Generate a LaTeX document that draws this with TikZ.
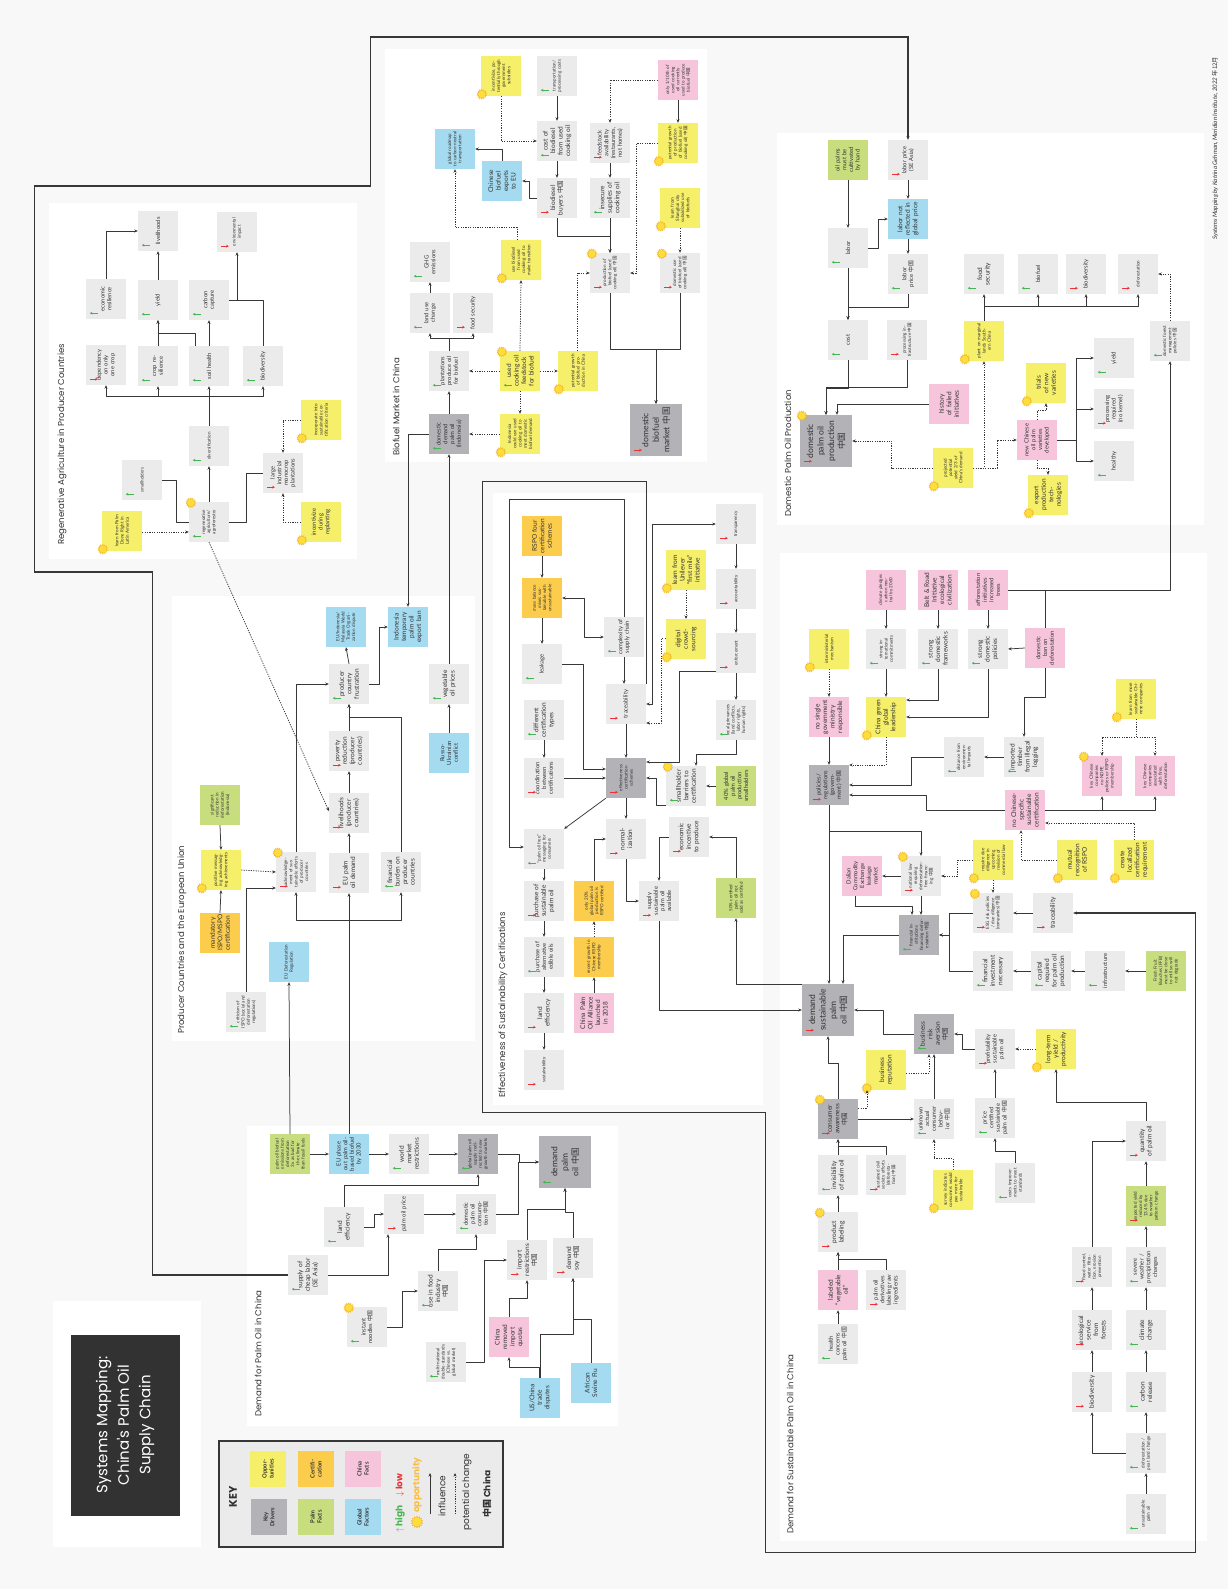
\documentclass[tikz,border=0pt]{standalone}
\usepackage{fontspec}
\setmainfont{Lato}
\newfontfamily\pop{Poppins}
\newfontfamily\cjk{Noto Sans CJK SC}
\usetikzlibrary{arrows.meta,calc,shapes.geometric}
\newcommand\zg{{\cjk 中国}}
\definecolor{bgc}{RGB}{248,248,248}
\definecolor{gbox}{RGB}{235,235,235}
\definecolor{kdc}{RGB}{178,178,183}
\definecolor{yel}{RGB}{246,239,106}
\definecolor{ora}{RGB}{252,204,76}
\definecolor{pnk}{RGB}{246,197,220}
\definecolor{grn}{RGB}{200,222,126}
\definecolor{blu}{RGB}{164,219,240}
\definecolor{hic}{RGB}{70,180,80}
\definecolor{loc}{RGB}{235,50,55}
\definecolor{lnc}{RGB}{55,55,55}
\definecolor{txt}{RGB}{50,50,50}
\definecolor{dark}{RGB}{50,50,50}
\definecolor{sunf}{RGB}{255,222,60}
\definecolor{sund}{RGB}{240,175,40}
\newcommand\indhi[1]{\draw[hiarr] ([xshift=12pt,yshift=6pt]#1.north west) -- ++(-8,0);}
\newcommand\indlo[1]{\draw[loarr] ([xshift=4pt,yshift=6pt]#1.north west) -- ++(8,0);}
\newcommand\sunbl[1]{\node[sun] (#1sun) at ($(#1.north west)+(1,-2)$) {};}
\newcommand\suntl[1]{\node[sun] (#1sun) at ($(#1.north east)+(2,1)$) {};}
\tikzset{
 box/.style={rotate=90, minimum width=40pt, minimum height=40pt, text width=35pt, inner sep=2.5pt, align=center, font=\fontsize{5.8}{6.7}\selectfont, text=txt},
 gb/.style={box, fill=gbox},
 kd/.style={box, fill=kdc},
 op/.style={box, fill=yel},
 ce/.style={box, fill=ora},
 cf/.style={box, fill=pnk},
 pf/.style={box, fill=grn},
 gf/.style={box, fill=blu},
 big/.style={minimum width=52pt, minimum height=52pt, text width=46pt, font=\fontsize{8.5}{10.5}\selectfont},
 fS/.style={font=\fontsize{4.5}{5.2}\selectfont},
 fL/.style={font=\fontsize{6.5}{7.5}\selectfont},
 arr/.style={draw=lnc, line width=0.75pt, line join=round, -{Stealth[length=3.5pt,width=3pt]}},
 arrb/.style={draw=lnc, line width=0.75pt, line join=round, {Stealth[length=3.5pt,width=3pt]}-{Stealth[length=3.5pt,width=3pt]}},
 ln/.style={draw=lnc, line width=0.75pt, line join=round},
 darr/.style={arr, dash pattern=on 1.2pt off 1.2pt},
 hiarr/.style={draw=hic, line width=0.9pt, -{Stealth[length=2.6pt,width=2.8pt]}},
 loarr/.style={draw=loc, line width=0.9pt, -{Stealth[length=2.6pt,width=2.8pt]}},
 sun/.style={star, star points=14, star point ratio=1.45, minimum size=10pt, inner sep=0pt, fill=sunf, draw=sund, line width=0.3pt},
 ttl/.style={rotate=90, anchor=west, inner sep=0pt, font=\pop\fontsize{8.6}{10}\selectfont, text=txt},
 big outline/.style={draw=lnc, line width=1.1pt, line join=miter}
}
\begin{document}
\begin{tikzpicture}[x=1pt,y=-1pt]
\useasboundingbox (0,0) rectangle (1228,1589);
\fill[bgc] (0,0) rectangle (1228,1589);
% panels
\fill[white] (49,203) rectangle (357,559);
\fill[white] (385,49) rectangle (707,462);
\fill[white] (777,133) rectangle (1204,525);
\fill[white] (172,596) rectangle (475,1041);
\fill[white] (493,493) rectangle (763,1105);
\fill[white] (780,553) rectangle (1207,1541);
\fill[white] (247,1126) rectangle (618,1426);
\fill[white] (53,1301) rectangle (201,1547);
\fill[dark] (71,1335) rectangle (180,1516);
\node[rotate=90, align=center, text=white, font=\pop\fontsize{15}{21.5}\selectfont] (maintitle) at (125,1425) {Systems Mapping:\\China's Palm Oil\\Supply Chain};
% section titles
\node[ttl] (t1) at (62,545) {Regenerative Agriculture in Producer Countries};
\node[ttl] (t2) at (396,456) {Biofuel Market in China};
\node[ttl] (t3) at (788,517) {Domestic Palm Oil Production};
\node[ttl] (t4) at (182,1034) {Producer Countries and the European Union};
\node[ttl] (t5) at (503,1098) {Effectiveness of Sustainability Certifications};
\node[ttl] (t6) at (790,1534) {Demand for Sustainable Palm Oil in China};
\node[ttl] (t7) at (258,1417) {Demand for Palm Oil in China};
\node[rotate=90, anchor=west, inner sep=0pt, font=\itshape\fontsize{6.2}{7}\selectfont, text=txt] (credit) at (1215,240) {Systems Mapping by Katrina Gehman, Meridian Institute, 2022 {\upshape\cjk 年12月}};

% ===== Regenerative agriculture =====
\node[gb] (rlive) at (158,231) {livelihoods};
\node[gb,fS] (renv) at (237,232) {environmental impact};
\node[gb] (recon) at (106,299) {economic resilience};
\node[gb] (ryield) at (158,300) {yield};
\node[gb] (rcarb) at (209,300) {carbon capture};
\node[gb] (rdep) at (106,365) {dependency on only one crop};
\node[gb] (rcrop) at (158,366) {crop resilience};
\node[gb] (rsoil) at (209,366) {soil health};
\node[gb] (rbio) at (263,366) {biodiversity};
\node[gb,fS] (rdiv) at (209,446) {diversification};
\node[gb,fS] (rsmall) at (142,480) {smallholders};
\node[gb,fS] (rregen) at (209,522) {regenerative agriculture/ agroforestry};
\node[op,fS] (rlearn) at (122,531) {learn from Palm Done Right in Latin America};
\node[gb] (rlarge) at (283,473) {large industrial monocrop plantations};
\node[op,fS] (rincorp) at (321,420) {incorporate into sustainable certification criteria};
\node[op] (rincent) at (321,522) {incentivize during replanting};
\indhi{rlive}\indlo{renv}\indhi{recon}\indhi{ryield}\indhi{rcarb}\indlo{rdep}\indhi{rcrop}\indhi{rsoil}\indhi{rbio}\indhi{rdiv}\indhi{rsmall}\indhi{rregen}\indlo{rlarge}
\suntl{rregen}\sunbl{rlearn}\sunbl{rincorp}\sunbl{rincent}
\draw[arr] (recon.east) |- (rlive.north);
\draw[arr] (ryield.east) -- (rlive.west);
\draw[arr] (rcrop.east) -- (ryield.west);
\draw[arr] ($(rsoil.east)+(-14,0)$) -- ++(0,-12) -| (ryield.west);
\draw[arr] (rsoil.east) -- (rcarb.west);
\draw[arr] (rcarb.south) -| (renv.west);
\draw[ln] (rbio.east) |- ($(rcarb.south)+(8,0)$);
\draw[arr] (rdiv.east) -- (rsoil.west);
\draw[arr] (rdiv.east) -- ++(0,-29) -| (rdep.west);
\draw[arr] (rdiv.east) -- ++(0,-29) -| (rcrop.west);
\draw[arr] (rdiv.east) -- ++(0,-29) -| (rbio.west);
\draw[arr] (rregen.east) -- (rdiv.west);
\draw[ln] (rsmall.south) -- ++(14,0) |- (rregen.north);
\draw[darr] ($(rlearn.south)+(0,1)$) -- ($(rregen.north)+(0,10)$);
\draw[ln] (rregen.south) -- ++(17,0) |- (rlarge.north);
\draw[darr] (rincorp.north) -| (rlarge.east);
\draw[darr] (rincent.north) -| (rlarge.west);

% ===== Biofuel =====
\node[op,fS] (bincent) at (501,76) {incentivize, potentially through government subsidies};
\node[gb,fS] (btrans) at (557,76) {transportation/ processing costs};
\node[cf,fS] (bonly) at (678,80) {only 1/10th of used cooking oil currently used to produce biofuel \zg};
\node[gf,fS] (broad) at (455,149) {global roadmap to carbon-neutral transportation};
\node[gb,fL] (bcost) at (557,141) {cost of biodiesel from used cooking oil};
\node[gb] (bfeed) at (610,143) {feedstock availability (restaurants, not homes)};
\node[op,fS] (bpotprod) at (678,143) {potential growth of production of biofuel (used cooking oil) \zg};
\node[gf,fL] (bexp) at (502,181) {Chinese biofuel exports to EU};
\node[gb,fL] (bbuy) at (557,198) {biodiesel buyers \zg};
\node[gb,fL] (binsec) at (610,198) {insecure supplies of cooking oil};
\node[op,fS] (bshang) at (680,208) {learn from Shanghai city subsidized use of biofuels};
\node[gb] (bghg) at (430,262) {GHG emissions};
\node[op,fS] (buse) at (521,260) {use biodiesel from used cooking oil to make transition};
\node[gb,fS] (bprod) at (610,273) {production of biofuel (used cooking oil) \zg};
\node[gb,fS] (bdomuse) at (680,273) {domestic use of biofuel (used cooking oil) \zg};
\node[gb] (bland) at (430,313) {land use change};
\node[gb] (bfood) at (473,313) {food security};
\node[gb] (bplant) at (449,371) {plantations produce oil for biofuel};
\node[op,fL] (bused) at (520,371) {used cooking oil feedstock for biofuel};
\node[op,fS] (bpotgrow) at (578,371) {potential growth of biofuel production in China};
\node[kd] (bdd) at (449,434) {domestic demand palm oil (Indonesia)};
\node[op,fS] (bindo) at (520,434) {Indonesia could use used cooking oil to meet domestic biofuel demand};
\node[kd,big] (bmarket) at (656,430) {domestic biofuel market \zg};
\indhi{btrans}\indhi{bcost}\indlo{bfeed}\indlo{bbuy}\indhi{binsec}\indhi{bghg}\indlo{bprod}\indlo{bdomuse}\indhi{bland}\indlo{bfood}\indhi{bplant}\indhi{bused}\indhi{bdd}\indlo{bmarket}
\sunbl{bincent}\sunbl{bpotprod}\sunbl{bshang}\sunbl{buse}\suntl{bprod}\suntl{bdomuse}\suntl{bused}\sunbl{bpotgrow}\sunbl{bindo}
\draw[arr] (btrans.west) -- (bcost.east);
\draw[darr] (bincent.west) |- (bcost.north);
\draw[arr] (bcost.west) -- (bbuy.east);
\draw[arr] (bonly.west) -- (bpotprod.east);
\draw[darr] (bonly.north) -| (bfeed.east);
\draw[arr] (bfeed.west) -- (binsec.east);
\draw[arr] (bbuy.north) -- ++(-7,0) |- (bexp.south);
\draw[arr] (bexp.east) |- (broad.south);
\draw[arr] (bbuy.west) -- ++(0,18) -| (bprod.east);
\draw[arr] (binsec.west) -- (bprod.east);
\draw[darr] (bpotprod.north) -- ++(-21,0) |- (bprod.south);
\draw[darr] (bshang.west) -- (bdomuse.east);
\draw[arr] (bprod.west) -- ++(0,56) -| (bmarket.east);
\draw[arr] (bdomuse.west) -- ++(0,56) -| (bmarket.east);
\draw[arr] (bland.east) -- (bghg.west);
\draw[arr] (bplant.east) -- ++(0,-12) -| (bland.west);
\draw[arr] (bplant.east) -- ++(0,-12) -| (bfood.west);
\draw[darr] (bused.north) -- (bplant.south);
\draw[darr] (bused.south) -- (bpotgrow.north);
\draw[darr] (bused.east) -- (buse.west);
\draw[darr] (bused.west) -- (bindo.east);
\draw[darr] ($(buse.east)+(-4,0)$) -- ++(0,-12) -| (broad.west);
\draw[darr] ($(bpotgrow.east)+(-1,0)$) |- (bprod.north);
\draw[darr] (bindo.north) -- (bdd.south);
\draw[arr] (bdd.east) -- (bplant.west);

% ===== Domestic palm oil production =====
\node[pf] (doil) at (848,160) {oil palms must be cultivated by hand};
\node[gb] (dlpse) at (908,160) {labor price (SE Asia)};
\node[gb] (dlabor) at (848,248) {labor};
\node[gf,fL] (dlnr) at (908,219) {labor not reflected in global price};
\node[gb] (dlpc) at (908,274) {labor price \zg};
\node[gb,fL] (dfood) at (984,274) {food security};
\node[gb] (dbiofuel) at (1038,274) {biofuel};
\node[gb] (dbiodiv) at (1086,274) {biodiversity};
\node[gb,fS] (ddefor) at (1138,274) {deforestation};
\node[gb] (dcost) at (848,340) {cost};
\node[gb,fS] (dproc) at (907,340) {processing infrastructure \zg};
\node[op,fS] (dplant) at (984,341) {plant on marginal lands Southern China};
\node[gb,fS] (dfm) at (1170,341) {domestic forest management policies \zg};
\node[gb] (dyield) at (1114,358) {yield};
\node[op,fL] (dtrials) at (1046,383) {trials of new varieties};
\node[cf,fL] (dhist) at (949,404) {history of failed initiatives};
\node[kd,big] (dpop) at (826,441) {domestic palm oil production \zg};
\node[cf] (dnew) at (1037,440) {new Chinese oil palm varieties developed};
\node[gb] (dprocreq) at (1114,409) {processing required (no kernel)};
\node[gb] (dhealthy) at (1114,461) {healthy};
\node[op,fS] (dproj) at (953,468) {projected potential yield 2/3 of China's demand};
\node[op,fL] (dexport) at (1048,495) {export production technologies};
\indlo{dlpse}\indhi{dlabor}\indhi{dlpc}\indhi{dfood}\indhi{dbiofuel}\indlo{dbiodiv}\indlo{ddefor}\indhi{dcost}\indlo{dproc}\indhi{dfm}\indhi{dyield}\indlo{dpop}\indlo{dprocreq}\indhi{dhealthy}
\sunbl{dplant}\sunbl{dtrials}\suntl{dpop}\sunbl{dproj}\sunbl{dexport}
\draw[arr] (doil.west) -- (dlabor.east);
\draw[arr] (dlpse.west) -- (dlnr.east);
\draw[arr] (dlabor.south) -- ++(10,0) |- (dlnr.north);
\draw[arr] (dlnr.west) -- (dlpc.east);
\draw[arr] (dlabor.west) -- (dcost.east);
\draw[arr] (dlpc.west) -- ++(0,13) -| (dcost.east);
\draw[arr] (dcost.west) -- ++(0,28) -| (dpop.east);
\draw[arr] (dproc.west) -- ++(0,27) -| (dpop.east);
\draw[arr] (dhist.north) -| ($(dpop.east)+(11,0)$);
\draw[darr] (dproj.north) -- ++(-41,0) |- (dpop.south);
\draw[darr] (dproj.south) -| (dplant.west);
\draw[darr] (dproj.south) -- ++(24,0) |- (dnew.north);
\draw[arr] (dplant.east) -- ++(0,-14) -| (dfood.west);
\draw[arr] (dplant.east) -- ++(0,-14) -| (dbiofuel.west);
\draw[arr] (dplant.east) -- ++(0,-14) -| (dbiodiv.west);
\draw[arr] (dplant.east) -- ++(0,-14) -| (ddefor.west);
\draw[darr] (dfm.east) |- (ddefor.south);
\draw[darr] (dnew.east) -- ++(0,-9) -| (dtrials.west);
\draw[darr] (dnew.west) -- ++(0,8) -| (dexport.east);
\draw[arr] (dnew.south) -- ++(19,0) |- (dyield.north);
\draw[arr] (dnew.south) -- ++(19,0) |- (dprocreq.north);
\draw[arr] (dnew.south) -- ++(19,0) |- (dhealthy.north);

% ===== Producer countries and EU =====
\node[gf,fS] (pwto) at (346,627) {EU/Indonesia/ Malaysia World Trade Organization dispute};
\node[gf,fL] (pban) at (408,627) {Indonesia temporary palm oil export ban};
\node[gb,fL] (pfrus) at (349,684) {producer country frustration};
\node[gb,fL] (pveg) at (449,684) {vegetable oil prices};
\node[gb,fL] (ppov) at (349,751) {poverty reduction (producer countries)};
\node[gf] (prusso) at (449,753) {Russo-Ukrainian conflict};
\node[pf,fS] (psig) at (220,805) {significant reduction in deforestation (Indonesia)};
\node[gb,fL] (pliv) at (349,813) {livelihoods (producer countries)};
\node[op,fS] (ppos) at (221,870) {positive messaging acknowledging achievements};
\node[gb,fS] (pack) at (296,872) {acknowledge-ment of sustainable efforts of producer countries};
\node[gb,fL] (pdem) at (349,873) {EU palm oil demand};
\node[gb,fL] (pfin) at (401,872) {financial burden on producer countries};
\node[ce,fL] (pmand) at (220,933) {mandatory ISPO/MSPO certification};
\node[gf,fS] (peureg) at (289,962) {EU Deforestation Regulation};
\node[gb,fS] (pcrit) at (246,1012) {criticism of ISPO (social and deforestation regulations)};
\indhi{pfrus}\indhi{pveg}\indlo{ppov}\indlo{pliv}\indlo{pack}\indlo{pdem}\indhi{pfin}\indhi{pcrit}
\sunbl{ppos}\suntl{pack}
\draw[arr] (pfrus.east) -- (pwto.west);
\draw[arr] (pfrus.south) -- ++(10,0) |- (pban.north);
\draw[arr] (ppov.east) -- (pfrus.west);
\draw[arr] (pliv.east) -- (ppov.west);
\draw[arr] (pdem.east) -- (pliv.west);
\draw[arr] (pfin.east) |- ($(ppov.east)!0.5!(pfrus.west)$) -- (pfrus.west);
\draw[arr] (pack.east) |- (pfrus.north);
\draw[darr] (ppos.south) -- (pack.north);
\draw[arr] (psig.west) -- (ppos.east);
\draw[arr] (pmand.east) -- (ppos.west);
\draw[arr] (pcrit.east) |- ($(pack.north)+(0,16)$);
\draw[arr] (prusso.east) -- (pveg.west);
\draw[arr] (pveg.east) -- (bdd.west);
\draw[arr] (bdd.north) -| (pban.east);
\draw[darr] (rregen.west) -- ($(pliv.north)+(0,-2)$);

% ===== Effectiveness of certifications =====
\node[ce,fL] (crspo) at (542,536) {RSPO four certification schemes};
\node[gb,fS] (ctransp) at (736,524) {transparency};
\node[op,fL] (cunil) at (686,570) {learn from Unilever “first mile” initiative};
\node[ce,fS] (cmass) at (542,598) {mass balance mixes sustainable with unsustainable};
\node[gb,fS] (caccount) at (736,589) {accountability};
\node[gb] (ccomp) at (624,637) {complexity of supply chain};
\node[op,fL] (cdigital) at (686,639) {digital crowd-sourcing};
\node[gb] (cleak) at (542,664) {leakage};
\node[gb,fS] (cenforce) at (736,653) {enforcement};
\node[gb] (ctrace) at (626,704) {traceability};
\node[gb,fL] (cdiff) at (544,720) {different certification types};
\node[gb,fS] (cgriev) at (736,720) {local grievances (land conflicts, labor rights, human rights)};
\node[gb] (ccoord) at (544,778) {coordination between certifications};
\node[kd,fS] (ceff) at (626,778) {effectiveness certification schemes};
\node[gb,fL] (csmall) at (686,786) {smallholder barriers to certification};
\node[pf] (c40) at (736,786) {40\% global palm oil production smallholders};
\node[gb,fS] (cmsg) at (544,849) {“palm oil free” messaging for consumers};
\node[gb,fL] (cnorm) at (626,839) {normal-ization};
\node[gb,fL] (cecon) at (689,837) {economic incentive to produce};
\node[gb,fL] (cpsus) at (544,901) {purchase of sustainable palm oil};
\node[ce,fS] (conly) at (594,901) {only 20\% global palm oil production is RSPO certified};
\node[gb] (csupply) at (659,901) {supply sustainable palm oil available};
\node[pf,fS] (c50) at (736,898) {50\% certified palm oil not sold as certified};
\node[gb] (cpalt) at (544,957) {purchase of alternative edible oils};
\node[ce,fS] (crecent) at (594,957) {recent growth in Chinese RSPO membership};
\node[gb,fL] (cland) at (544,1013) {land efficiency};
\node[cf,fL] (calliance) at (594,1013) {China Palm Oil Alliance launched in 2018};
\node[gb,fS] (csust) at (544,1070) {sustainability};
\indlo{ctransp}\indlo{caccount}\indhi{ccomp}\indhi{cleak}\indlo{cenforce}\indlo{ctrace}\indhi{cdiff}\indhi{cgriev}\indlo{ccoord}\indlo{ceff}\indhi{csmall}\indhi{cmsg}\indlo{cnorm}\indlo{cecon}\indlo{cpsus}\indlo{csupply}\indhi{cpalt}\indlo{cland}\indlo{csust}
\sunbl{cunil}\sunbl{cdigital}\suntl{csmall}
\draw[arr] (crspo.west) -- (cmass.east);
\draw[arr] (cmass.west) -- (cleak.east);
\draw[arrb] (cmass.south) -- ++(22,0) |- (ccomp.north);
\draw[arr] (ccomp.west) -- (ccomp.west |- ctrace.east);
\draw[arr] (ccomp.east) -- ++(0,-117) -- ++(-115,0) |- ($(cmsg.north)+(0,-2)$);
\draw[arrb] (ctrace.south) -- ++(6,0) |- (ctransp.north);
\draw[arr] (ctransp.west) -- (caccount.east);
\draw[arr] (caccount.west) -- (cenforce.east);
\draw[arr] (cenforce.west) -- (cgriev.east);
\draw[darr] (cunil.west) -- (cdigital.east);
\draw[darr] ($(cdigital.north)+(0,-1)$) -- ++(-4,0) |- ($(ctrace.south)+(0,19)$);
\draw[arr] ($(cenforce.north)+(0,18)$) -- ++(-36,0) |- ($(ceff.south)+(0,-16)$);
\draw[arr] (cgriev.west) -- ++(0,14) -| ($(csmall.east)+(10,0)$);
\draw[arr] (c40.north) -- (csmall.south);
\draw[arr] ($(csmall.north)+(0,19)$) -- ++(-9,0) |- (ceff.south);
\draw[arr] (ctrace.west) -- (ceff.east);
\draw[arr] (cleak.south) -- ++(21,0) |- ($(ceff.north)+(0,-9)$);
\draw[arr] (cdiff.west) -- (ccoord.east);
\draw[arr] (ccoord.south) -- (ceff.north);
\draw[arr] (ceff.north west) -- (cmsg.south east);
\draw[arr] (ceff.west) -- (cnorm.east);
\draw[arr] (cmsg.west) -- (cpsus.east);
\draw[arr] (cpsus.west) -- (cpalt.east);
\draw[arr] (cpalt.west) -- (cland.east);
\draw[arr] (cland.west) -- (csust.east);
\draw[arr] (calliance.east) -- (crecent.west);
\draw[darr] (crecent.east) -- (conly.west);
\draw[arr] (conly.east) |- (cnorm.north);
\draw[arr] (cnorm.west) |- (csupply.north);
\draw[arr] (cecon.north) -| (csupply.east);
\draw[arr] (c50.east) |- (cecon.south);

% ===== Demand for sustainable palm oil =====
\node[cf,fS] (sclim) at (886,590) {climate pledges carbon neutral by 2060};
\node[cf,fL] (sbelt) at (938,590) {Belt \& Road Initiative ecological civilization};
\node[cf] (safforest) at (988,590) {afforestation initiatives increased trees};
\node[op,fS] (sinter) at (829,649) {interministerial mechanism};
\node[gb,fS] (sintl) at (886,649) {strong international commitments};
\node[gb,fL] (sfw) at (938,649) {strong domestic frameworks};
\node[gb,fL] (spol) at (988,649) {strong domestic policies};
\node[cf] (sban) at (1045,648) {domestic ban on deforestation};
\node[op,fS] (slearn) at (1136,699) {learn from more sustainable Chinese companies};
\node[cf,fL] (snosingle) at (829,717) {no single government ministry responsible};
\node[op,fL] (sgreen) at (886,717) {China green global leadership};
\node[gb,fS] (sdist) at (964,757) {distance from environmental impacts};
\node[gb,fL] (stimber) at (1024,757) {imported timber from illegal logging};
\node[kd] (spolicies) at (829,785) {policies/ regulations (government) \zg};
\node[cf,fS] (skcc1) at (1102,776) {key Chinese companies no NDPE policies or RSPO membership};
\node[cf,fS] (skcc2) at (1155,776) {key Chinese companies associated with fires, deforestation};
\node[cf,fL] (snochin) at (1025,810) {no Chinese-specific sustainable certification};
\node[cf] (sdalian) at (862,876) {Dalian Commodity Exchange leakage market};
\node[gb,fS] (slaw) at (921,876) {national law requiring deforestation-free financing \zg};
\node[op,fS] (sreq) at (993,860) {require due diligence in upcoming revision of commercial law};
\node[op,fL] (smutual) at (1077,860) {mutual recognition of RSPO};
\node[op,fL] (screate) at (1134,860) {create localized certification requirement};
\node[gb,fS] (sesg) at (993,913) {ESG risk policies / due diligence (companies) \zg};
\node[gb,fL] (strace) at (1053,913) {traceability};
\node[kd,fS] (sfin) at (919,935) {financial institutions financing deforestation \zg};
\node[gb,fL] (sfinv) at (993,971) {financial investment necessary};
\node[gb,fL] (scap) at (1051,971) {capital required for palm oil production};
\node[gb] (sinfra) at (1105,971) {infrastructure};
\node[pf,fS] (sffb) at (1166,971) {Fresh Fruit Bunches (FFB) must be close to mill so will not degrade};
\node[kd,big] (sdemand) at (828,1010) {demand sustainable palm oil \zg};
\node[kd,fL] (sbiz) at (934,1034) {business risk aversion \zg};
\node[gb] (sprof) at (995,1049) {profitability sustainable palm oil};
\node[op,fL] (slong) at (1056,1049) {long-term yield / productivity};
\node[op,fL] (sbizrep) at (886,1070) {business reputation};
\node[kd,fL] (scons) at (838,1119) {consumer awareness \zg};
\node[gb] (sunknown) at (934,1119) {unknown actual consumer behavior \zg};
\node[gb] (sprice) at (995,1118) {price certified sustainable palm oil \zg};
\node[gb,fL] (squant) at (1146,1141) {quantity of palm oil};
\node[gb,fL] (sinvis) at (838,1175) {invisibility of palm oil};
\node[gb,fS] (ssustained) at (886,1175) {sustained civil society efforts (deforestation) \zg};
\node[op,fS] (ssurvey) at (953,1190) {survey indicates consumers would pay more for sustainable};
\node[gb,fS] (scosts) at (1015,1183) {costs improvements to meet standards};
\node[pf,fS] (sexp) at (1146,1206) {expected yield reduced by 13.4\% due to weather pattern change};
\node[gb,fL] (slabel) at (838,1232) {product labeling};
\node[cf,fL] (sveg) at (838,1290) {labeled “vegetable oil”};
\node[gb] (sderiv) at (886,1290) {palm oil derivatives labeling raw ingredients};
\node[gb,fS] (sflood) at (1092,1267) {flood control, water filtration, erosion prevention};
\node[gb] (ssev) at (1146,1267) {severe weather / precipitation changes};
\node[gb] (shealth) at (838,1344) {health concerns palm oil \zg};
\node[gb,fL] (seco) at (1092,1330) {ecological service from forests};
\node[gb,fL] (sclimc) at (1146,1330) {climate change};
\node[gb,fL] (sbio) at (1092,1392) {biodiversity};
\node[gb,fL] (scarb) at (1146,1392) {carbon release};
\node[gb,fS] (sdefpeat) at (1146,1453) {deforestation / peat land change};
\node[gb,fS] (sunsus) at (1146,1514) {unsustainable palm oil};
\indhi{sintl}\indhi{sfw}\indhi{spol}\indhi{sdist}\indhi{stimber}\indlo{spolicies}\indlo{slaw}\indlo{sesg}\indlo{strace}\indhi{sfin}\indhi{sfinv}\indhi{scap}\indhi{sinfra}\indlo{sdemand}\indhi{sbiz}\indlo{sprof}\indlo{scons}\indhi{sunknown}\indhi{sprice}\indlo{squant}\indhi{sinvis}\indlo{ssustained}\indhi{scosts}\indlo{sexp}\indlo{slabel}\indlo{sderiv}\indlo{sflood}\indhi{ssev}\indhi{shealth}\indlo{seco}\indhi{sclimc}\indlo{sbio}\indhi{scarb}\indhi{sdefpeat}\indhi{sunsus}
\sunbl{sinter}\sunbl{slearn}\sunbl{sgreen}\suntl{skcc1}\suntl{slaw}\sunbl{sreq}\sunbl{smutual}\sunbl{screate}\suntl{sesg}\sunbl{slong}\sunbl{sbizrep}\suntl{scons}\sunbl{ssurvey}\suntl{slabel}
\draw[arr] (sclim.west) -- (sintl.east);
\draw[arr] (sbelt.west) -- (sfw.east);
\draw[arr] (safforest.west) -- (spol.east);
\draw[arr] (sban.north) -- (spol.south);
\draw[arr] (safforest.south) -| (dfm.west);
\draw[ln] (sban.east) -- (sban.east |- safforest.south);
\draw[arr] (sintl.west) -- (sgreen.east);
\draw[arr] (sfw.west) |- ($(sgreen.south)+(0,-17)$);
\draw[arr] (spol.west) |- (sgreen.south);
\draw[darr] (sinter.west) -- (snosingle.east);
\draw[arr] (snosingle.west) -- (spolicies.east);
\draw[darr] (sgreen.west) |- ($(spolicies.south)+(0,-20)$);
\draw[arr] (sdist.north) -- ++(-32,0) |- (spolicies.south);
\draw[arr] (stimber.north) -- (sdist.south);
\draw[arr] (sban.west) -- ++(0,29) -| (stimber.east);
\draw[darr] (slearn.west) -- ++(0,18) -| (skcc1.east);
\draw[darr] (slearn.west) -- ++(0,18) -| (skcc2.east);
\draw[arr] (snochin.north) -- ++(-78,0) |- ($(spolicies.south)+(0,10)$);
\draw[arr] (snochin.south) -| (skcc1.west);
\draw[arr] (snochin.south) -| (skcc2.west);
\draw[darr] (smutual.north) -| ($(snochin.west)+(-4,0)$);
\draw[darr] (screate.east) |- ($(snochin.south)+(0,13)$);
\draw[arr] (spolicies.west) -- ++(0,26) -| (slaw.east);
\draw[arr] (spolicies.west) -- (spolicies.west |- sdemand.east);
\draw[darr] (sreq.north) -- ++(-15,0) |- (slaw.south);
\draw[darr] (sreq.west) -- (sesg.east);
\draw[arr] (slaw.north) -- (sdalian.south);
\draw[arr] (slaw.west) -- (slaw.west |- sfin.east);
\draw[arr] ($(sdalian.west)+(-7,0)$) -- ++(0,10) -| ($(sfin.east)+(-7,0)$);
\draw[arr] (sesg.north) -- ++(-23,0) |- (sfin.south);
\draw[arr] (sfinv.north) -- ++(-23,0) |- (sfin.south);
\draw[arr] (strace.north) -- (sesg.south);
\draw[arr] (sffb.north) -- (sinfra.south);
\draw[arr] (sinfra.north) -- (scap.south);
\draw[arr] (scap.north) -- (sfinv.south);
\draw[arr] (sfin.north) -| ($(sdemand.east)+(15,0)$);
\draw[arr] (sbiz.north) -- ++(-30,0) |- (sdemand.south);
\draw[arr] (sprof.north) -- ++(-12,0) |- (sbiz.south);
\draw[darr] (slong.north) -- (sprof.south);
\draw[arr] (sprice.east) -- (sprof.west);
\draw[arr] (scosts.east) -- ++(0,-11) -| (sprice.west);
\draw[arr] (squant.east) -- ++(0,-18) -| (slong.west);
\draw[arr] (sexp.east) -- (squant.west);
\draw[arr] (ssev.east) -- (sexp.west);
\draw[arr] (sflood.east) |- (squant.north);
\draw[arr] (seco.east) -- (sflood.west);
\draw[arr] (sbio.east) -- (seco.west);
\draw[arr] (sclimc.east) -- (ssev.west);
\draw[arr] (scarb.east) -- (sclimc.west);
\draw[arr] (sdefpeat.east) -- (scarb.west);
\draw[arr] (sdefpeat.north) -| (sbio.west);
\draw[arr] (sunsus.east) -- (sdefpeat.west);
\draw[arr] (scons.east) -- ++(0,-35) -| (sdemand.west);
\draw[darr] ($(scons.south)+(0,-11)$) -| ($(sbizrep.west)+(-19,0)$);
\draw[darr] ($(sbizrep.south)+(0,3)$) -| ($(sbiz.west)+(-5,0)$);
\draw[arr] (scons.south) -- (sunknown.north);
\draw[arr] (sunknown.east) -- (sbiz.west);
\draw[darr] (ssurvey.east) -- ++(0,-11) -| (sunknown.west);
\draw[arr] (sinvis.east) -- (scons.west);
\draw[arr] (ssustained.east) -- ++(0,-8) -| (scons.west);
\draw[arr] (slabel.east) -- (sinvis.west);
\draw[arr] (sveg.east) -- (slabel.west);
\draw[arr] (sderiv.east) -- ++(0,-10) -| (slabel.west);
\draw[arr] (shealth.east) -- (sveg.west);
% cross links to certification panel
\draw[arr] (csupply.west) |- (sdemand.north);
\draw[arr] ($(sdemand.north)+(0,-26)$) -| (c50.west);

% ===== Demand for palm oil in China =====
\node[pf,fS] (mbio) at (290,1154) {palm oil biofuel emissions from deforestation 3x as bad for the climate than fossil fuels};
\node[gf] (mphase) at (349,1154) {EU phase out palm oil-based biofuel by 2030};
\node[gb,fL] (mworld) at (409,1154) {world market restrictions};
\node[kd,fS] (mglobal) at (478,1154) {global palm oil supply redirected to new growth markets};
\node[kd,big] (mdemand) at (565,1162) {demand palm oil \zg};
\node[gb,fL] (mland) at (344,1227) {land efficiency};
\node[gb] (mprice) at (404,1214) {palm oil price};
\node[gb] (mcons) at (476,1214) {domestic palm oil consumption \zg};
\node[gb,fL] (mlabor) at (308,1275) {supply of cheap labor (SE Asia)};
\node[gb,fL] (mimport) at (527,1260) {import restrictions \zg};
\node[gb,fL] (msoy) at (573,1258) {demand soy \zg};
\node[gb,fL] (mfood) at (438,1291) {use in food industry \zg};
\node[gb] (mnood) at (367,1327) {instant noodles \zg};
\node[cf,fL] (mremoved) at (509,1337) {China removed import quotas};
\node[gb,fS] (mmulti) at (446,1362) {multi-national double-standards (Chinese vs. global market)};
\node[gf,fL] (muschina) at (540,1398) {US/China trade disputes};
\node[gf,fL] (masf) at (591,1383) {African Swine Flu};
\indhi{mworld}\indhi{mglobal}\indhi{mdemand}\indhi{mland}\indlo{mprice}\indhi{mcons}\indhi{mlabor}\indlo{mimport}\indlo{msoy}\indhi{mfood}\indhi{mnood}\indhi{mmulti}
\suntl{mnood}
\draw[arr] (mbio.south) -- (mphase.north);
\draw[arr] (mphase.south) -- (mworld.north);
\draw[arr] (mworld.south) -- (mglobal.north);
\draw[arr] (mglobal.south) -- ++(21,0) |- (mdemand.north);
\draw[arr] (mcons.south) -- ++(22,0) |- (mdemand.north);
\draw[arr] (mland.east) -- ++(0,-21) -| (mglobal.west);
\draw[arr] (mland.south) -- ++(10,0) |- (mprice.north);
\draw[arr] (mlabor.south) -| ($(mprice.west)+(-16,0)$);
\draw[arr] (mprice.south) -- (mcons.north);
\draw[arr] (mfood.east) -- ++(0,-21) -| (mcons.west);
\draw[arr] (mnood.south) -- ++(15,0) |- (mfood.north);
\draw[arr] (mimport.east) -- ++(0,-30) -| (mdemand.west);
\draw[arr] (msoy.east) -- ++(0,-25) -| (mdemand.west);
\draw[arr] (mremoved.east) -- ++(0,-18) -| (mimport.west);
\draw[arr] (mmulti.south) -- ++(18,0) |- (mimport.north);
\draw[arr] ($(muschina.east)+(-1,0)$) -- ++(0,-10) -| (mremoved.west);
\draw[arr] (muschina.east) -- ++(0,-43) -| (msoy.west);
\draw[arr] (masf.east) -- ++(0,-43) -| (msoy.west);
\draw[arr] (mbio.east) -- (peureg.west);
\draw[arr] (mphase.east) -- (pdem.west);
\draw[arr] (mphase.east) -- ++(0,-213) -| (pack.west);
\draw[arr] (mphase.east) -- ++(0,-213) -| (pfin.west);

% ===== long outline connectors =====
\draw[arr, big outline] (mlabor.north) -- ++(-135,0) -- ++(0,-703) -- ++(-118,0) -- ++(0,-386) -- ++(336,0) -- ++(0,-149) -| (dlpse.east);
\draw[arr, big outline] (ctrace.south east) -- ++(0,-202) -- ++(-164,0) -- ++(0,631) -- ++(283,0) -- ++(0,440) -- ++(430,0) |- (strace.south);

% ===== Key =====
\draw[draw=lnc, line width=1.3pt, fill=gbox] (219,1441) rectangle (503,1547);
\node[rotate=90, font=\pop\bfseries\fontsize{11}{12}\selectfont, text=txt] (keyttl) at (233,1497) {KEY};
\tikzset{kbox/.style={rotate=90, minimum width=36pt, minimum height=36pt, text width=32pt, inner sep=1pt, align=center, font=\bfseries\fontsize{5.8}{6.8}\selectfont, text=txt}}
\node[kbox, fill=yel] (k1) at (268,1469) {Oppor-\\tunities};
\node[kbox, fill=kdc] (k2) at (269,1517) {Key\\Drivers};
\node[kbox, fill=ora] (k3) at (316,1469) {Certifi-\\cation};
\node[kbox, fill=grn] (k4) at (316,1517) {Palm\\Facts};
\node[kbox, fill=pnk] (k5) at (363,1469) {China\\Facts};
\node[kbox, fill=blu] (k6) at (363,1517) {Global\\Factors};
\node[rotate=90, anchor=west, inner sep=0pt, font=\pop\bfseries\fontsize{9}{10}\selectfont] (k7) at (400,1533) {\textcolor{hic}{$\uparrow$ high}\hspace{9pt}\textcolor{loc}{$\downarrow$ low}};
\node[sun, minimum size=12pt] (k8) at (417,1522) {};
\node[rotate=90, anchor=west, inner sep=0pt, font=\pop\bfseries\fontsize{9}{10}\selectfont, text=ora!80!orange] (k9) at (417,1513) {opportunity};
\coordinate (k10a) at (430,1514);
\coordinate (k10b) at (430,1473);
\draw[arr] (k10a) -- (k10b);
\node[rotate=90, anchor=west, inner sep=0pt, font=\pop\fontsize{9}{10}\selectfont, text=txt] (k11) at (442,1517) {influence};
\coordinate (k12a) at (455,1514);
\coordinate (k12b) at (455,1473);
\draw[darr] (k12a) -- (k12b);
\node[rotate=90, anchor=west, inner sep=0pt, font=\pop\fontsize{9}{10}\selectfont, text=txt] (k13) at (467,1531) {potential change};
\node[rotate=90, anchor=west, inner sep=0pt, font=\pop\bfseries\fontsize{9}{10}\selectfont, text=txt] (k14) at (487,1518) {{\cjk\bfseries 中国} China};
\end{tikzpicture}
\end{document}
